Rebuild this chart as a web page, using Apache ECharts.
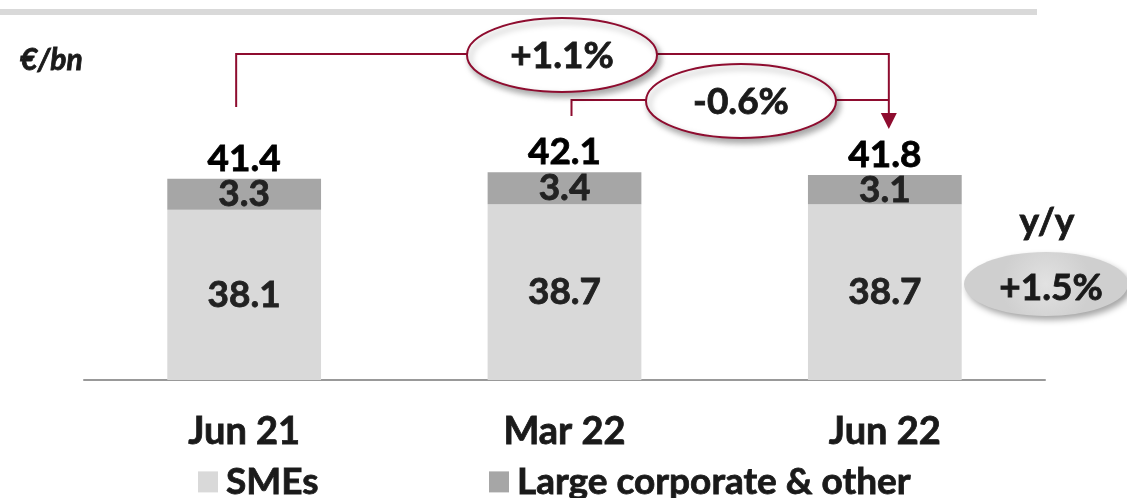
<!DOCTYPE html>
<html>
<head>
<meta charset="utf-8">
<script src="https://cdn.jsdelivr.net/npm/echarts@6/dist/echarts.min.js"></script>
<style>
  html, body { margin: 0; padding: 0; background: #fff; }
  #chart { width: 1127px; height: 498px; }
</style>
</head>
<body>
<div id="chart"></div>
<script>
// data
const categories = ['Jun 21', 'Mar 22', 'Jun 22']
const smes = [38.1, 38.7, 38.7]
const largeCorp = [3.3, 3.4, 3.1]
const totals = [41.4, 42.1, 41.8]
const changeYear = '+1.1%'
const changeQuarter = '-0.6%'
const changeYoY = '+1.5%'

const FONT = 'Lato'
const RED = '#8e0c2f'
const INK = '#1a1a1a'

const chart = echarts.init(document.getElementById('chart'))

// 加粗一点，接近原图的粗体
const heavy = (color) => ({
  fontFamily: FONT,
  fontSize: 37,
  fontWeight: 'bold',
  color: color,
  textBorderColor: color,
  textBorderWidth: 0.8
})

chart.setOption({
  animation: false,
  textStyle: { fontFamily: FONT },
  grid: { left: 84, right: 82, top: 98, bottom: 118 },
  legend: [
    {
      data: ['SMEs'],
      left: 193,
      top: 458,
      icon: 'rect',
      itemWidth: 20,
      itemHeight: 21,
      textStyle: Object.assign(heavy(INK), { padding: [0, 0, 0, 3], lineHeight: 36 })
    },
    {
      data: ['Large corporate & other'],
      left: 484,
      top: 458,
      icon: 'rect',
      itemWidth: 20,
      itemHeight: 21,
      textStyle: Object.assign(heavy(INK), { padding: [0, 0, 0, 3], lineHeight: 36 })
    }
  ],
  xAxis: {
    type: 'category',
    data: categories,
    axisLine: { lineStyle: { color: '#999', width: 2 } },
    axisTick: { length: 12, lineStyle: { color: '#999', width: 2 } },
    axisLabel: Object.assign(heavy(INK), { fontSize: 38, margin: 33 })
  },
  yAxis: {
    type: 'value',
    min: 20,
    max: 50,
    show: false,
    splitLine: { show: false }
  },
  series: [
    {
      name: 'SMEs',
      type: 'bar',
      stack: 'loans',
      data: smes,
      barWidth: '48%',
      itemStyle: { color: '#d9d9d9' },
      label: Object.assign({ show: true, position: 'inside' }, heavy('#222'))
    },
    {
      name: 'Large corporate & other',
      type: 'bar',
      stack: 'loans',
      data: largeCorp,
      barWidth: '48%',
      itemStyle: { color: '#a6a6a6' },
      label: Object.assign({ show: true, position: 'inside' }, heavy('#222'))
    },
    {
      // 合计标签
      name: 'total',
      type: 'bar',
      data: totals,
      barWidth: '48%',
      barGap: '-100%',
      silent: true,
      itemStyle: { color: 'rgba(0,0,0,0)' },
      label: Object.assign({ show: true, position: 'top', distance: 2, lineHeight: 36 }, heavy('#000'))
    }
  ]
})

// annotations, placed from the category positions
const cx = categories.map((c, i) => chart.convertToPixel({ xAxisIndex: 0 }, i))

const ellipseStyle = {
  fill: '#fff',
  stroke: RED,
  lineWidth: 2,
  shadowBlur: 6,
  shadowOffsetX: 3,
  shadowOffsetY: 4,
  shadowColor: 'rgba(0,0,0,0.35)'
}
const bigText = (x, y, text, extra) => ({
  type: 'text',
  x: x,
  y: y,
  z: 20,
  style: Object.assign({
    text: text,
    font: 'bold 37px ' + FONT,
    fill: INK,
    stroke: INK,
    lineWidth: 0.8,
    align: 'center',
    verticalAlign: 'middle'
  }, extra || {})
})

const arrowX = cx[2] + 4
const startX = cx[0] - 8
const midX = cx[1] + 7

chart.setOption({
  graphic: [
    // top rule
    { type: 'rect', shape: { x: 0, y: 9, width: 1037, height: 6 }, style: { fill: '#d9d9d9' } },
    // unit
    bigText(20, 60, '€/bn', { font: 'italic bold 30px ' + FONT, align: 'left' }),
    // brackets
    {
      type: 'polyline',
      z: 10,
      shape: { points: [[startX, 107], [startX, 54], [arrowX, 54], [arrowX, 114]] },
      style: { stroke: RED, lineWidth: 2, fill: null }
    },
    {
      type: 'polyline',
      z: 10,
      shape: { points: [[midX, 116], [midX, 100], [arrowX, 100]] },
      style: { stroke: RED, lineWidth: 2, fill: null }
    },
    {
      type: 'polygon',
      z: 10,
      shape: { points: [[arrowX - 8, 113], [arrowX + 8, 113], [arrowX, 129]] },
      style: { fill: RED }
    },
    // change bubbles
    { type: 'ellipse', z: 15, shape: { cx: 562, cy: 55, rx: 95, ry: 37 }, style: ellipseStyle },
    { type: 'ellipse', z: 16, shape: { cx: 741, cy: 101, rx: 95, ry: 37 }, style: ellipseStyle },
    bigText(562, 56, changeYear),
    bigText(741, 102, changeQuarter),
    // y/y
    bigText(1047, 222, 'y/y'),
    {
      type: 'ellipse',
      z: 15,
      shape: { cx: 1046, cy: 284, rx: 82, ry: 32 },
      style: {
        fill: new echarts.graphic.RadialGradient(0.5, 0.5, 0.7, [
          { offset: 0, color: '#e2e2e2' },
          { offset: 1, color: '#cfcfcf' }
        ]),
        shadowBlur: 6,
        shadowOffsetX: 3,
        shadowOffsetY: 4,
        shadowColor: 'rgba(0,0,0,0.35)'
      }
    },
    bigText(1051, 288, changeYoY)
  ]
})
</script>
</body>
</html>
